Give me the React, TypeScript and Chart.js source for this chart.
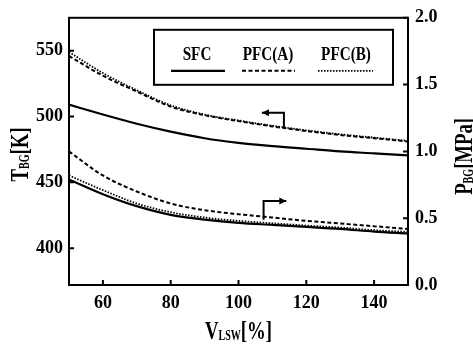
import React, { useEffect, useRef } from "react";
import { Chart, registerables } from "chart.js";
Chart.register(...registerables);

// ---- data ----
const V_LSW = [50, 60, 70, 80, 90, 100, 110, 120, 130, 140, 150];
const T_SFC = [509, 501.5, 494.5, 488.5, 483.5, 480, 477.5, 475.5, 473.5, 472, 470.5];
const T_PFC_A = [546, 531, 519, 507.5, 501, 496.5, 492.5, 489, 486, 483.5, 481];
const T_PFC_B = [549, 533, 520, 508.5, 501.5, 497, 493, 489.5, 486.5, 484, 481.5];
const P_SFC = [0.79, 0.68, 0.59, 0.525, 0.49, 0.465, 0.45, 0.435, 0.42, 0.4, 0.385];
const P_PFC_A = [1.0, 0.82, 0.7, 0.61, 0.56, 0.53, 0.505, 0.48, 0.46, 0.44, 0.42];
const P_PFC_B = [0.82, 0.71, 0.61, 0.545, 0.505, 0.48, 0.462, 0.445, 0.43, 0.41, 0.398];

const SERIES_LABELS = ["SFC", "PFC(A)", "PFC(B)"];
const X_TICKS = [60, 80, 100, 120, 140];
const T_TICKS = [400, 450, 500, 550];
const P_TICKS = [0, 0.5, 1.0, 1.5, 2.0];
const P_TICK_LABELS = ["0.0", "0.5", "1.0", "1.5", "2.0"];

// arrows pointing to the axis each curve group belongs to (x, value)
const ARROW_T_X = [113.4, 113.4, 106.9];
const ARROW_T_Y = [491, 502.8, 502.8];
const ARROW_P_X = [107.4, 107.4, 114.1];
const ARROW_P_Y = [0.489, 0.628, 0.628];

const FONT = '"Liberation Serif", "DejaVu Serif", serif';

const STYLES = [
  { borderDash: [] as number[], borderWidth: 2.2 },
  { borderDash: [4, 2.5], borderWidth: 2 },
  { borderDash: [1.5, 1.5], borderWidth: 1.8 },
];

type Part = { text: string; size: number; dy?: number };

function drawRich(ctx: CanvasRenderingContext2D, parts: Part[], cx: number, cy: number, rot: number, sx: number) {
  ctx.save();
  ctx.translate(cx, cy);
  ctx.rotate(rot);
  ctx.scale(sx, 1);
  ctx.textAlign = "left";
  ctx.textBaseline = "alphabetic";
  const main = parts[0].size;
  let total = 0;
  const ws = parts.map((p) => {
    ctx.font = `bold ${p.size}px ${FONT}`;
    const w = ctx.measureText(p.text).width;
    total += w;
    return w;
  });
  let xx = -total / 2;
  parts.forEach((p, i) => {
    ctx.font = `bold ${p.size}px ${FONT}`;
    ctx.fillText(p.text, xx, main * 0.33 + (p.dy || 0));
    xx += ws[i];
  });
  ctx.restore();
}

function arrow(ctx: CanvasRenderingContext2D, pts: [number, number][]) {
  ctx.beginPath();
  ctx.moveTo(pts[0][0], pts[0][1]);
  for (let i = 1; i < pts.length; i++) ctx.lineTo(pts[i][0], pts[i][1]);
  ctx.lineWidth = 2;
  ctx.setLineDash([]);
  ctx.stroke();
  const [x1, y1] = pts[pts.length - 2];
  const [x2, y2] = pts[pts.length - 1];
  const ang = Math.atan2(y2 - y1, x2 - x1);
  const L = 7, W = 3.5;
  ctx.beginPath();
  ctx.moveTo(x2, y2);
  ctx.lineTo(x2 - L * Math.cos(ang) + W * Math.sin(ang), y2 - L * Math.sin(ang) - W * Math.cos(ang));
  ctx.lineTo(x2 - L * Math.cos(ang) - W * Math.sin(ang), y2 - L * Math.sin(ang) + W * Math.cos(ang));
  ctx.closePath();
  ctx.fill();
}

const decor = {
  id: "decor",
  beforeDraw(chart: any) {
    const { ctx, width, height } = chart;
    ctx.save();
    ctx.fillStyle = "#fff";
    ctx.fillRect(0, 0, width, height);
    ctx.restore();
  },
  afterDraw(chart: any) {
    const { ctx, chartArea: a, scales } = chart;
    const x = scales.x, yT = scales.yT, yP = scales.yP;
    ctx.save();
    ctx.strokeStyle = "#000";
    ctx.fillStyle = "#000";
    ctx.lineWidth = 2;
    ctx.setLineDash([]);
    ctx.strokeRect(a.left, a.top, a.right - a.left, a.bottom - a.top);
    // inward ticks
    ctx.beginPath();
    x.ticks.forEach((t: any) => {
      const px = x.getPixelForValue(t.value);
      ctx.moveTo(px, a.bottom);
      ctx.lineTo(px, a.bottom - 5);
    });
    yT.ticks.forEach((t: any) => {
      const py = yT.getPixelForValue(t.value);
      ctx.moveTo(a.left, py);
      ctx.lineTo(a.left + 5, py);
    });
    yP.ticks.forEach((t: any) => {
      const py = yP.getPixelForValue(t.value);
      ctx.moveTo(a.right, py);
      ctx.lineTo(a.right - 5, py);
    });
    ctx.stroke();

    // axis titles
    const midY = (a.top + a.bottom) / 2;
    drawRich(ctx, [{ text: "T", size: 26 }, { text: "BG", size: 14, dy: 1 }, { text: "[K]", size: 26 }], a.left - 50, midY + 3, -Math.PI / 2, 0.72);
    drawRich(ctx, [{ text: "P", size: 26 }, { text: "BG", size: 14, dy: 1 }, { text: "[MPa]", size: 26 }], a.right + 55, midY + 5, -Math.PI / 2, 0.72);
    drawRich(ctx, [{ text: "V", size: 26 }, { text: "LSW", size: 14, dy: 1 }, { text: "[%]", size: 26 }], (a.left + a.right) / 2, a.bottom + 45, 0, 0.72);

    // legend
    const bx = a.left + 85, by = a.top + 12;
    ctx.lineWidth = 2;
    ctx.strokeRect(bx, by, 239, 55);
    const centers = [43, 114, 192];
    const starts = [17, 88, 164];
    const ends = [71, 141, 219];
    const ds = chart.data.datasets;
    for (let i = 0; i < 3; i++) {
      drawRich(ctx, [{ text: ds[i].label, size: 19 }], bx + centers[i], by + 24, 0, 0.8);
      ctx.beginPath();
      ctx.lineWidth = ds[i].borderWidth;
      ctx.setLineDash(ds[i].borderDash || []);
      ctx.moveTo(bx + starts[i], by + 41);
      ctx.lineTo(bx + ends[i], by + 41);
      ctx.stroke();
    }
    ctx.setLineDash([]);

    // arrows
    arrow(ctx, ARROW_T_X.map((v, i) => [x.getPixelForValue(v), yT.getPixelForValue(ARROW_T_Y[i])] as [number, number]));
    arrow(ctx, ARROW_P_X.map((v, i) => [x.getPixelForValue(v), yP.getPixelForValue(ARROW_P_Y[i])] as [number, number]));
    ctx.restore();
  },
};

function mk(label: string, data: number[], axis: string, style: number) {
  return {
    label,
    data: data.map((v, i) => ({ x: V_LSW[i], y: v })),
    yAxisID: axis,
    borderColor: "#000",
    backgroundColor: "#000",
    borderWidth: STYLES[style].borderWidth,
    borderDash: STYLES[style].borderDash,
    pointRadius: 0,
    cubicInterpolationMode: "monotone" as const,
    fill: false,
  };
}

export default function App() {
  const ref = useRef<HTMLCanvasElement>(null);
  useEffect(() => {
    if (!ref.current) return;
    Chart.defaults.font.family = FONT;
    Chart.defaults.color = "#000";
    const tickFont = { family: FONT, size: 18, weight: "bold" as const };
    const chart = new Chart(ref.current, {
      type: "line",
      data: {
        datasets: [
          mk(SERIES_LABELS[0], T_SFC, "yT", 0),
          mk(SERIES_LABELS[1], T_PFC_A, "yT", 1),
          mk(SERIES_LABELS[2], T_PFC_B, "yT", 2),
          mk(SERIES_LABELS[0], P_SFC, "yP", 0),
          mk(SERIES_LABELS[1], P_PFC_A, "yP", 1),
          mk(SERIES_LABELS[2], P_PFC_B, "yP", 2),
        ],
      },
      options: {
        responsive: false,
        animation: false,
        layout: { padding: { top: 11, left: 0, right: 0, bottom: 0 } },
        plugins: { legend: { display: false }, tooltip: { enabled: false } },
        scales: {
          x: {
            type: "linear",
            position: "bottom",
            min: 50,
            max: 150,
            grid: { display: false, drawTicks: false },
            border: { display: false },
            ticks: { font: tickFont, padding: 8, maxRotation: 0, autoSkip: false, color: "#000" },
            afterBuildTicks: (s: any) => { s.ticks = X_TICKS.map((v) => ({ value: v })); },
            afterFit: (s: any) => { s.height = 60; },
          },
          yT: {
            type: "linear",
            position: "left",
            min: 372,
            max: 575,
            grid: { display: false, drawTicks: false },
            border: { display: false },
            ticks: { font: tickFont, padding: 6, color: "#000" },
            afterBuildTicks: (s: any) => { s.ticks = T_TICKS.map((v) => ({ value: v })); },
            afterFit: (s: any) => { s.width = 69; },
          },
          yP: {
            type: "linear",
            position: "right",
            min: 0,
            max: 2,
            grid: { display: false, drawTicks: false },
            border: { display: false },
            ticks: {
              font: tickFont,
              padding: 7,
              color: "#000",
              callback: (v: any) => P_TICK_LABELS[P_TICKS.indexOf(Number(v))] ?? String(v),
            },
            afterBuildTicks: (s: any) => { s.ticks = P_TICKS.map((v) => ({ value: v })); },
            afterFit: (s: any) => { s.width = 65; },
          },
        },
      },
      plugins: [decor],
    });
    return () => chart.destroy();
  }, []);
  return (
    <div style={{ position: "fixed", left: 0, top: 0, width: 473, height: 345, background: "#fff" }}>
      <canvas ref={ref} width={473} height={345} style={{ width: 473, height: 345, display: "block" }} />
    </div>
  );
}
